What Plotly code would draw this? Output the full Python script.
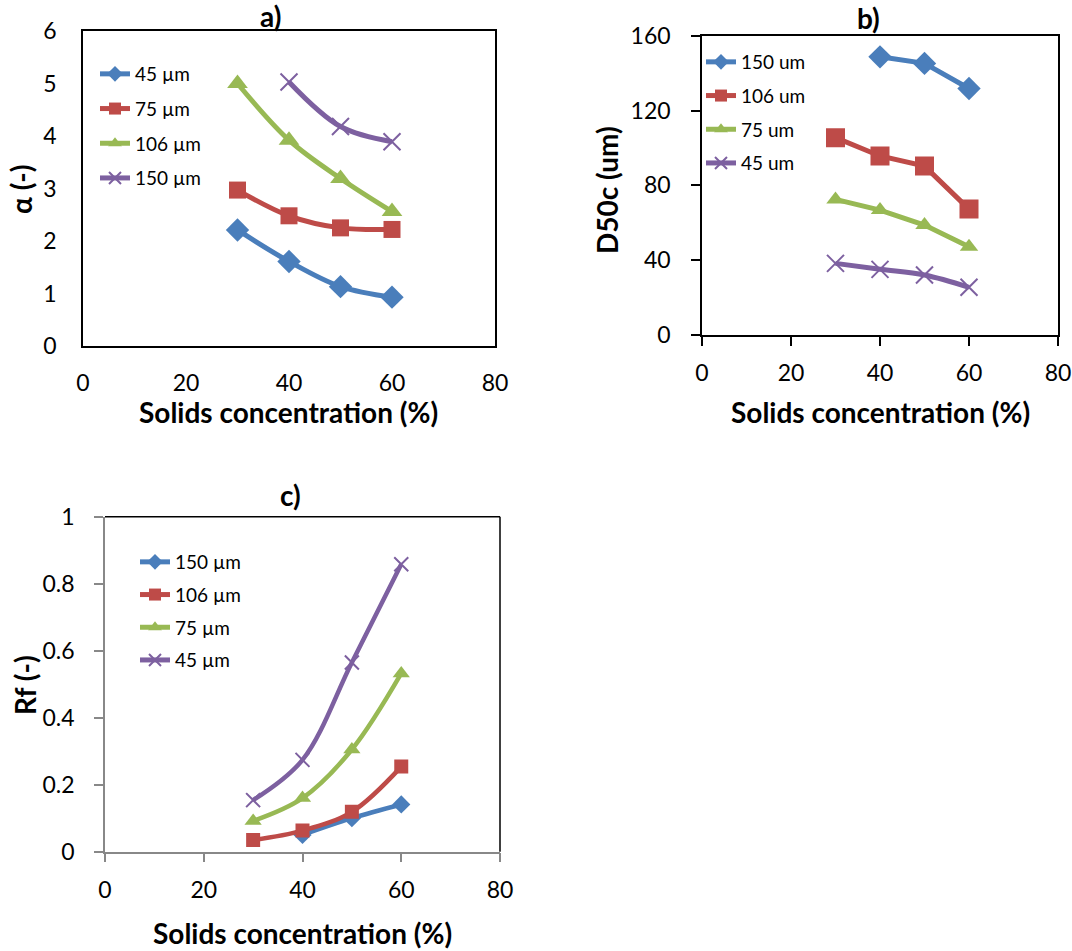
import plotly.graph_objects as go

# ---------------- data ----------------
solids = [30, 40, 50, 60]
solids_b150 = [40, 50, 60]

# a) alpha
a_labels = ["45 µm", "75 µm", "106 µm", "150 µm"]
alpha_45 = [2.21, 1.61, 1.13, 0.93]
alpha_75 = [2.97, 2.48, 2.25, 2.22]
alpha_106 = [5.0, 3.92, 3.19, 2.56]
alpha_150 = [5.03, 4.18, 3.89]

# b) D50c
b_labels = ["150 um", "106 um", "75 um", "45 um"]
d50_150 = [148.7, 145.2, 131.8]
d50_106 = [105.5, 95.7, 90.3, 67.3]
d50_75 = [72.5, 66.8, 58.8, 47.2]
d50_45 = [38.3, 35.1, 32.1, 25.5]

# c) Rf
c_labels = ["150 µm", "106 µm", "75 µm", "45 µm"]
rf_150 = [0.05, 0.10, 0.141]
rf_106 = [0.035, 0.063, 0.119, 0.254]
rf_75 = [0.092, 0.16, 0.305, 0.532]
rf_45 = [0.154, 0.274, 0.565, 0.858]

x_ticks = [0, 20, 40, 60, 80]

BLUE = "#4A7EBB"
RED = "#BE4B48"
GREEN = "#98B954"
PURPLE = "#7D60A0"
FONT = "Lato"

W, H = 1072, 951


def px_x(p):
    return p / W


def px_y(p):
    return 1 - p / H


fig = go.Figure()


def add(x, y, name, color, symbol, size, xa, ya, legend, group, shape, lw=5):
    mk = dict(symbol=symbol, size=size, color=color)
    if symbol.startswith("x"):
        mk.update(line=dict(color=color, width=2))
    fig.add_trace(go.Scatter(
        x=x, y=y, name=name, mode="lines+markers",
        line=dict(color=color, width=lw, shape=shape),
        marker=mk, xaxis=xa, yaxis=ya, legend=legend, legendgroup=group,
    ))


# panel a
add(solids, alpha_45, a_labels[0], BLUE, "diamond", 18, "x", "y", "legend", "a1", "spline")
add(solids, alpha_75, a_labels[1], RED, "square", 17, "x", "y", "legend", "a2", "spline")
add(solids, alpha_106, a_labels[2], GREEN, "triangle-up", 18, "x", "y", "legend", "a3", "spline")
add(solids_b150, alpha_150, a_labels[3], PURPLE, "x-thin", 17, "x", "y", "legend", "a4", "spline")

# panel b
add(solids_b150, d50_150, b_labels[0], BLUE, "diamond", 18, "x2", "y2", "legend2", "b1", "linear")
add(solids, d50_106, b_labels[1], RED, "square", 19, "x2", "y2", "legend2", "b2", "linear")
add(solids, d50_75, b_labels[2], GREEN, "triangle-up", 16, "x2", "y2", "legend2", "b3", "linear")
add(solids, d50_45, b_labels[3], PURPLE, "x-thin", 17, "x2", "y2", "legend2", "b4", "spline")

# panel c
add(solids_b150, rf_150, c_labels[0], BLUE, "diamond", 14, "x3", "y3", "legend3", "c1", "spline", 4.5)
add(solids, rf_106, c_labels[1], RED, "square", 14, "x3", "y3", "legend3", "c2", "spline", 4.5)
add(solids, rf_75, c_labels[2], GREEN, "triangle-up", 15, "x3", "y3", "legend3", "c3", "spline", 4.5)
add(solids, rf_45, c_labels[3], PURPLE, "x-thin", 14, "x3", "y3", "legend3", "c4", "spline", 4.5)

tickfont = dict(family=FONT, size=23, color="#000")
legfont = dict(family=FONT, size=19, color="#000")
titlefont = dict(family=FONT, size=28, color="#000")


def xaxis(domain, anchor, ticks, linecolor, mirror, standoff):
    return dict(domain=domain, anchor=anchor, range=[0, 80], tickvals=x_ticks,
                showgrid=False, zeroline=False, showline=True, linecolor=linecolor,
                linewidth=1.5, mirror=mirror, ticks=ticks, ticklen=9,
                tickcolor=linecolor, tickwidth=1.5, tickfont=tickfont,
                ticklabelstandoff=standoff, automargin=False)


def yaxis(domain, anchor, rng, dtick, ticks, linecolor, mirror, standoff):
    return dict(domain=domain, anchor=anchor, range=rng, dtick=dtick,
                showgrid=False, zeroline=False, showline=True, linecolor=linecolor,
                linewidth=1.5, mirror=mirror, ticks=ticks, ticklen=9,
                tickcolor=linecolor, tickwidth=1.5, tickfont=tickfont,
                ticklabelstandoff=standoff, automargin=False)


legend_common = dict(font=legfont, bgcolor="rgba(0,0,0,0)", traceorder="grouped",
                     itemsizing="constant", xanchor="left", yanchor="top")

fig.update_layout(
    width=W, height=H, margin=dict(l=0, r=0, t=0, b=0, autoexpand=False),
    paper_bgcolor="white", plot_bgcolor="white",
    showlegend=True,
    xaxis=xaxis([px_x(83), px_x(495)], "y", "", "#000", True, 16),
    yaxis=yaxis([px_y(346), px_y(31)], "x", [0, 6], 1, "", "#000", True, 20),
    xaxis2=xaxis([px_x(702), px_x(1058)], "y2", "outside", "#000", True, 8),
    yaxis2=yaxis([px_y(335), px_y(35.7)], "x2", [0, 160], 40, "outside", "#000", True, 16),
    xaxis3=xaxis([px_x(105), px_x(500)], "y3", "outside", "#888", False, 8),
    yaxis3=yaxis([px_y(851.7), px_y(516.7)], "x3", [0, 1], 0.2, "outside", "#888", False, 15),
    legend=dict(x=px_x(95), y=px_y(55), tracegroupgap=7, **legend_common),
    legend2=dict(x=px_x(701), y=px_y(43), tracegroupgap=6, **legend_common),
    legend3=dict(x=px_x(135), y=px_y(543), tracegroupgap=5, **legend_common),
)

# top/right frame for panel c in black
fig.add_shape(type="line", xref="x3 domain", yref="y3 domain", x0=0, x1=1, y0=1, y1=1,
              line=dict(color="#000", width=1.5))
fig.add_shape(type="line", xref="x3 domain", yref="y3 domain", x0=1, x1=1, y0=0, y1=1,
              line=dict(color="#000", width=1.5))

annots = [
    ("a)", 270, 16, 0), ("b)", 868, 18, 0), ("c)", 290, 495, 0),
    ("Solids concentration (%)", 288, 412, 0),
    ("Solids concentration (%)", 880, 412, 0),
    ("Solids concentration (%)", 302, 933, 0),
    ("α (-)", 21, 189, -90),
    ("D50c (um)", 607, 190, -90),
    ("Rf (-)", 25, 685, -90),
]
for text, x, y, ang in annots:
    fig.add_annotation(text=f"<b>{text}</b>", x=px_x(x), y=px_y(y), xref="paper", yref="paper",
                       showarrow=False, textangle=ang, font=titlefont,
                       xanchor="center", yanchor="middle")

fig.write_html("out.html")
